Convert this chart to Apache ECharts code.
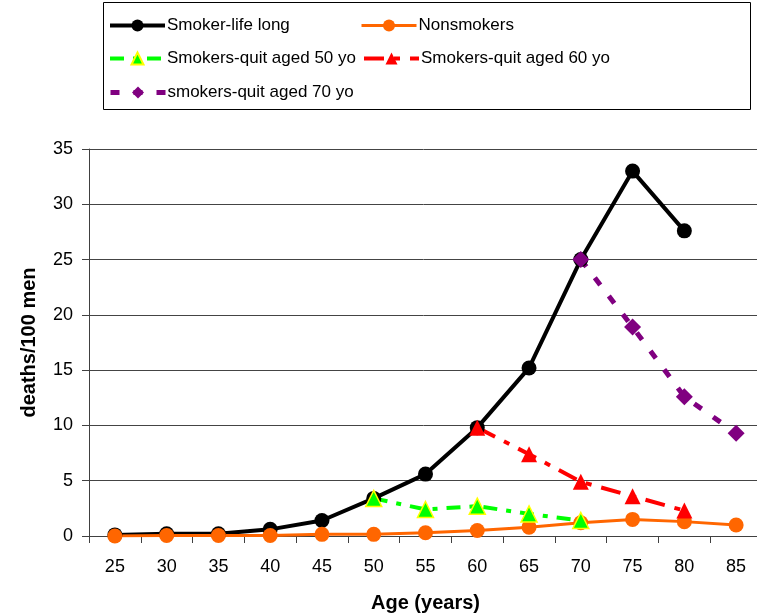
<!DOCTYPE html>
<html><head><meta charset="utf-8">
<script src="https://cdn.jsdelivr.net/npm/echarts@6/dist/echarts.min.js"></script>
<style>html,body{margin:0;padding:0;background:#fff}#c{width:757px;height:616px}</style>
</head><body><div id="c"></div>
<script>
const ages = ['25','30','35','40','45','50','55','60','65','70','75','80','85'];
const smokerLife = [0.1,0.2,0.2,0.6,1.4,3.4,5.6,9.8,15.2,25,33,27.6,null];
const nonsmokers = [0,0.05,0.05,0.05,0.15,0.15,0.3,0.5,0.8,1.2,1.5,1.3,1.0];
const quit50 = [null,null,null,null,null,3.4,2.4,2.7,2.0,1.4,null,null,null];
const quit60 = [null,null,null,null,null,null,null,9.8,7.4,4.9,3.6,2.3,null];
const quit70 = [null,null,null,null,null,null,null,null,null,25,18.9,12.6,9.3];
const names = ['Smoker-life long','Nonsmokers','Smokers-quit aged 50 yo','Smokers-quit aged 60 yo','smokers-quit aged 70 yo'];

const F = 'Liberation Sans, Arial, sans-serif';
const chart = echarts.init(document.getElementById('c'));
function lg(name, left, top, lw){
  return {data:[name], left:left, top:top, itemWidth:55, itemHeight:15, itemGap:0,
    lineStyle:{width:lw},
    textStyle:{fontFamily:F, fontSize:17, color:'#000', padding:[0,0,0,-3]}, selectedMode:false, padding:0};
}
chart.setOption({
  animation:false,
  backgroundColor:'#fff',
  graphic:[{type:'rect', shape:{x:103.5,y:2.5,width:647,height:107}, style:{fill:'none', stroke:'#000', lineWidth:1}}],
  legend:[
    lg(names[0],108,17,4), lg(names[1],360,17,3),
    lg(names[2],108,50,4), lg(names[3],362,50,4),
    lg(names[4],108,84,5)
  ],
  grid:{left:89, top:149, right:-5, bottom:80, outerBoundsMode:'none', containLabel:false},
  xAxis:{type:'category', data:ages, boundaryGap:true,
    name:'Age (years)', nameLocation:'middle', nameGap:57,
    nameTextStyle:{fontFamily:F, fontSize:20, fontWeight:'bold', color:'#000'},
    axisLine:{lineStyle:{color:'#404040', width:1}},
    axisTick:{show:true, length:7, lineStyle:{color:'#404040'}},
    axisLabel:{fontFamily:F, fontSize:18, color:'#000', margin:22}},
  yAxis:{type:'value', min:0, max:35, interval:5,
    name:'deaths/100 men', nameLocation:'middle', nameGap:50, nameRotate:90,
    nameTextStyle:{fontFamily:F, fontSize:20, fontWeight:'bold', color:'#000'},
    axisLine:{show:true, lineStyle:{color:'#404040', width:1}},
    axisTick:{show:true, length:7, lineStyle:{color:'#404040'}},
    axisLabel:{fontFamily:F, fontSize:18, color:'#000', margin:16},
    splitLine:{lineStyle:{color:'#444', width:1}}},
  series:[
    {name:names[0], type:'line', data:smokerLife, symbol:'circle', symbolSize:15,
      lineStyle:{color:'#000', width:4}, itemStyle:{color:'#000'}},
    {name:names[1], type:'line', data:nonsmokers, symbol:'circle', symbolSize:15,
      lineStyle:{color:'#ff6600', width:3}, itemStyle:{color:'#ff6600'}},
    {name:names[2], type:'line', data:quit50, symbol:'triangle', symbolSize:16,
      lineStyle:{color:'#00ff00', width:4, type:[14,9,5,9]}, itemStyle:{color:'#00ff00', borderColor:'#ffff00', borderWidth:1.5}},
    {name:names[3], type:'line', data:quit60, symbol:'triangle', symbolSize:16,
      lineStyle:{color:'#ff0000', width:4, type:[20,10,6,10]}, itemStyle:{color:'#ff0000'}},
    {name:names[4], type:'line', data:quit70, symbol:'diamond', symbolSize:17,
      lineStyle:{color:'#800080', width:5, type:[9,14]}, itemStyle:{color:'#800080'}}
  ]
});
</script></body></html>
